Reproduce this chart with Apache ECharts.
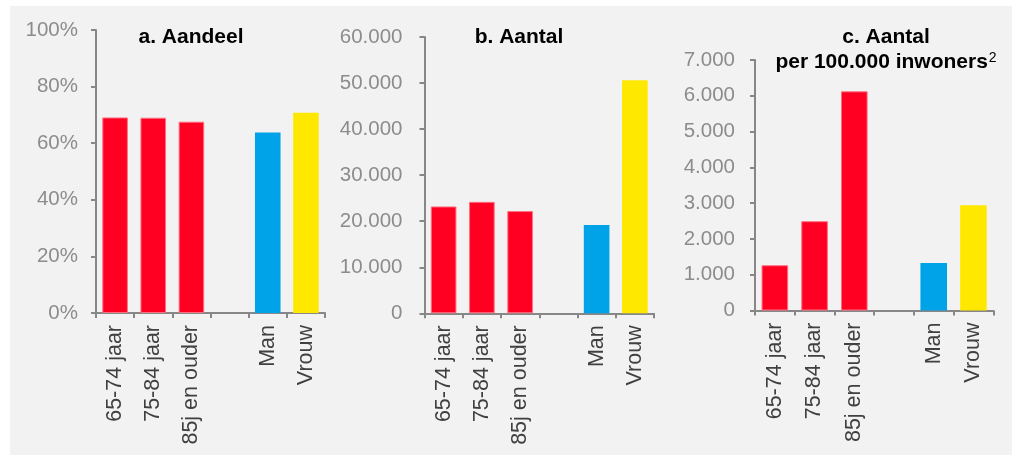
<!DOCTYPE html>
<html>
<head>
<meta charset="utf-8">
<title>Aandeel en aantal</title>
<script src="https://cdn.jsdelivr.net/npm/echarts@6/dist/echarts.min.js"></script>
<style>
  html, body { margin: 0; padding: 0; background: #ffffff; }
  #chart { width: 1012px; height: 455px; }
</style>
</head>
<body>
<div id="chart"></div>
<script>
// Categories (the empty slot separates age groups from sex)
const categories = ['65-74 jaar', '75-84 jaar', '85j en ouder', '', 'Man', 'Vrouw'];

// a. Aandeel (%)
const aandeel = [69.1, 69.0, 67.6, null, 63.8, 70.8];
// b. Aantal
const aantal = [23200, 24200, 22200, null, 19200, 50600];
// c. Aantal per 100.000 inwoners
const perInwoners = [1265, 2495, 6125, null, 1330, 2940];

// y-axis ranges
const axisA = { max: 100, interval: 20 };
const axisB = { max: 60000, interval: 10000 };
const axisC = { max: 7000, interval: 1000 };

const barColors = ['#FF0022', '#FF0022', '#FF0022', '#FF0022', '#00A2E8', '#FFE800'];
const FONT = '"Liberation Sans", Arial, sans-serif';
const AXIS_GRAY = '#878787';

function dutch(v) {
  return String(v).replace(/\B(?=(\d{3})+(?!\d))/g, '.');
}

function barData(values) {
  return values.map((v, i) => ({
    value: v,
    itemStyle: {
      color: barColors[i],
      borderColor: i < 4 ? '#ff6f80' : barColors[i],
      borderWidth: i < 4 ? 1 : 0
    }
  }));
}

const grids = [
  { left: 96, right: 1012 - 325, top: 30, bottom: 455 - 313 },
  { left: 424.5, right: 1012 - 654, top: 37, bottom: 455 - 313.3 },
  { left: 755, right: 1012 - 993.3, top: 60, bottom: 455 - 310.5 }
];

const yLabelMargins = [18, 22, 20];
const yFormatters = [v => v + '%', v => dutch(v), v => dutch(v)];
const yRanges = [axisA, axisB, axisC];
const seriesValues = [aandeel, aantal, perInwoners];

const xAxes = grids.map((g, i) => ({
  type: 'category',
  gridIndex: i,
  data: categories,
  axisLine: { lineStyle: { color: AXIS_GRAY, width: 2 } },
  axisTick: { show: true, length: 5, alignWithLabel: false, lineStyle: { color: AXIS_GRAY, width: 2 } },
  axisLabel: {
    rotate: 90,
    interval: 0,
    margin: 12,
    color: '#404040',
    fontFamily: FONT,
    fontSize: 21.5
  }
}));

const yAxes = grids.map((g, i) => ({
  type: 'value',
  gridIndex: i,
  min: 0,
  max: yRanges[i].max,
  interval: yRanges[i].interval,
  splitLine: { show: false },
  axisLine: { show: true, lineStyle: { color: AXIS_GRAY, width: 2 } },
  axisTick: { show: true, length: 5, lineStyle: { color: AXIS_GRAY, width: 2 } },
  axisLabel: {
    margin: yLabelMargins[i],
    color: '#8c8c8c',
    fontFamily: FONT,
    fontSize: 20.5,
    formatter: yFormatters[i]
  }
}));

const series = seriesValues.map((vals, i) => ({
  type: 'bar',
  xAxisIndex: i,
  yAxisIndex: i,
  data: barData(vals),
  barCategoryGap: '33%',
  animation: false
}));

const TITLE_FONT = 'bold 21px ' + FONT;

const chart = echarts.init(document.getElementById('chart'), null, { renderer: 'canvas' });
chart.setOption({
  animation: false,
  backgroundColor: '#ffffff',
  graphic: [
    {
      type: 'rect',
      z: -10,
      silent: true,
      shape: { x: 10, y: 6, width: 1002, height: 449 },
      style: { fill: '#f2f2f2' }
    },
    {
      type: 'text',
      x: 191, y: 37,
      style: { text: 'a. Aandeel', font: TITLE_FONT, fill: '#000000', align: 'center', verticalAlign: 'middle' }
    },
    {
      type: 'text',
      x: 519, y: 37,
      style: { text: 'b. Aantal', font: TITLE_FONT, fill: '#000000', align: 'center', verticalAlign: 'middle' }
    },
    {
      type: 'text',
      x: 886, y: 37,
      style: { text: 'c. Aantal', font: TITLE_FONT, fill: '#000000', align: 'center', verticalAlign: 'middle' }
    },
    {
      type: 'text',
      x: 886, y: 62,
      style: {
        text: '{b|per 100.000 inwoners}{s|2}',
        align: 'center',
        verticalAlign: 'middle',
        rich: {
          b: { font: TITLE_FONT, fill: '#000000', color: '#000000' },
          s: { font: '14px ' + FONT, fill: '#000000', color: '#000000', verticalAlign: 'top', padding: [0, 0, 8, 1] }
        }
      }
    }
  ],
  grid: grids,
  xAxis: xAxes,
  yAxis: yAxes,
  series: series
});
</script>
</body>
</html>
